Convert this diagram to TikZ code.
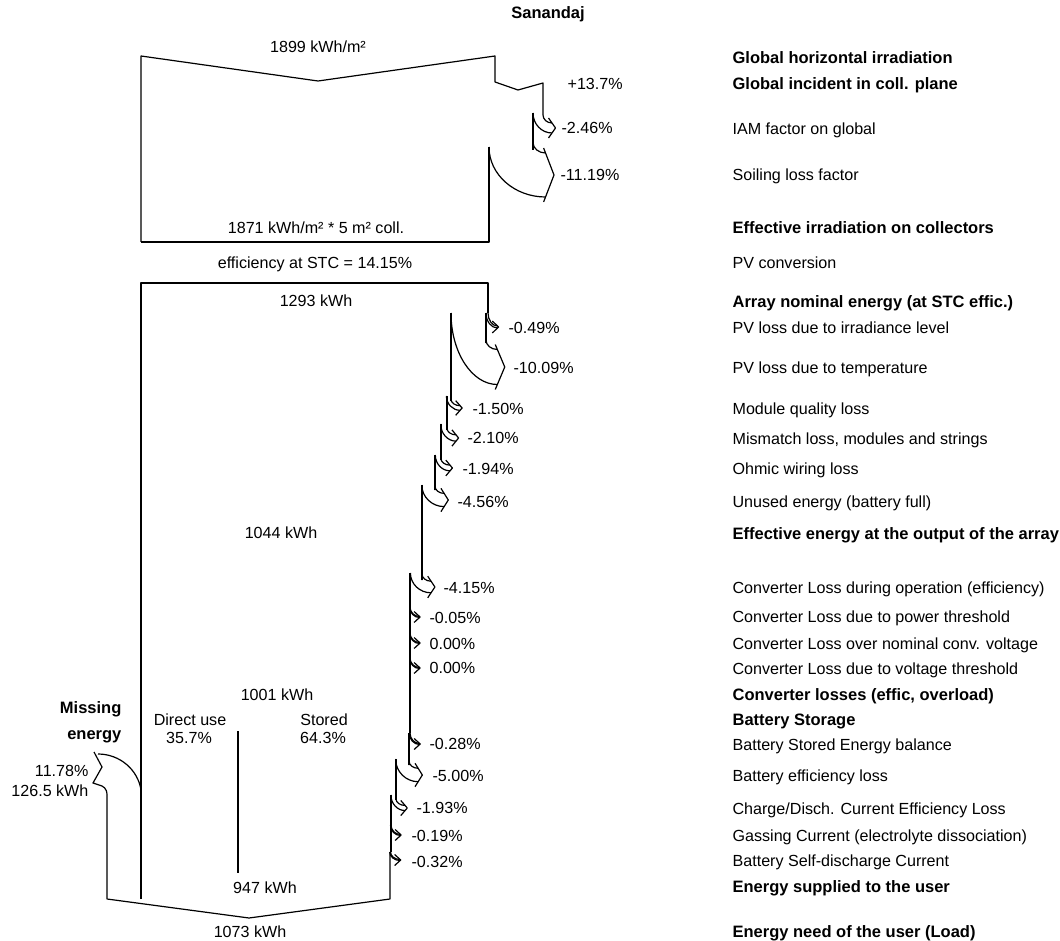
\documentclass[tikz,border=0pt]{standalone}
\usepackage{fontspec}
\setmainfont{Liberation Sans}
\newcommand\lblfont{\fontsize{16.1}{19}\selectfont}
\newcommand\blblfont{\fontsize{16.5}{19}\selectfont\bfseries}
% #1 R (outer edge x), #2 w (lost width), #3 yL (arrow level), #4 yO (outer start), #5 yI (inner start)
\newcommand\lossarr[5]{%
 \pgfmathsetmacro\lB{max(#2/2,0.5)}%
 \pgfmathsetmacro\lTx{#1+10+0.25*#2}%
 \pgfmathsetmacro\lA{6+0.1*#2}%
 \pgfmathsetmacro\lH{\lB+5}%
 \pgfmathsetmacro\lAx{\lTx-\lA}%
 \pgfmathsetmacro\lEx{\lTx-\lA*\lB/\lH}%
 \pgfmathsetmacro\lUy{#3-\lB}%
 \pgfmathsetmacro\lLy{#3+\lB}%
 \pgfmathsetmacro\lSy{min(#4,#3-\lB-6-0.1*#2)}%
 \pgfmathsetmacro\lIx{#1-#2}%
 \pgfmathsetmacro\lOa{\lSy+0.55*(\lUy-\lSy)}%
 \pgfmathsetmacro\lOb{\lEx-0.55*(\lEx-#1)}%
 \pgfmathsetmacro\lIa{#5+0.55*(\lLy-#5)}%
 \pgfmathsetmacro\lIb{\lEx-0.55*(\lEx-\lIx)}%
 \draw (#1,#4) -- (#1,\lSy) .. controls (#1,\lOa) and (\lOb,\lUy) .. (\lEx,\lUy);
 \draw (\lIx,#5) .. controls (\lIx,\lIa) and (\lIb,\lLy) .. (\lEx,\lLy);
 \draw (\lAx,#3-\lH) -- (\lTx,#3) -- (\lAx,#3+\lH);
}
\begin{document}
\begin{tikzpicture}[x=1pt,y=-1pt,line width=1.2pt,line join=round,
  lbl/.style={anchor=base west,inner sep=0pt,font=\lblfont},
  blbl/.style={anchor=base west,inner sep=0pt,font=\blblfont},
  mid/.style={anchor=base,inner sep=0pt,font=\lblfont},
  rlbl/.style={anchor=base east,inner sep=0pt,font=\lblfont},
  rblbl/.style={anchor=base east,inner sep=0pt,font=\blblfont}]
\useasboundingbox (0,0) rectangle (1060,941);
\fill[white] (0,0) rectangle (1060,941);

% ---- top section (irradiation)
\draw (141,242) -- (141,56) -- (318,81) -- (495,56) -- (495,82) -- (518,90) -- (543,83) -- (543,115);
\draw (533,113) -- (533,150);
\draw (489,147) -- (489,242) -- (141,242);
\lossarr{543}{10}{128}{115}{113}
\lossarr{533}{44}{175}{150}{147}

% ---- energy section
\draw (141,899) -- (141,283) -- (488,283) -- (488,313);
\draw (486,313) -- (486,343);
\draw (451,313) -- (451,401);
\draw (447,396) -- (447,430);
\draw (441,424) -- (441,460);
\draw (435,455) -- (435,490);
\draw (422,485) -- (422,580);
\draw (410,573) -- (410,733);
\draw (409,733) -- (409,765);
\draw (396,759) -- (396,800);
\draw (391,795) -- (391,852);
\draw (390,852) -- (390,899) -- (249,918) -- (107,899) -- (107,795)
  .. controls (107,788) and (103,786) .. (99,785) -- (93,783) -- (102,767) -- (94,752);
\draw (98,754) .. controls (120,754) and (138,770) .. (141,790);
\draw (238,731) -- (238,873);

\lossarr{488}{2}{327}{313}{313}
\lossarr{486}{35}{367}{343}{313}
\lossarr{451}{4.6}{408}{401}{396}
\lossarr{447}{6.3}{438}{430}{424}
\lossarr{441}{5.7}{468}{460}{455}
\lossarr{435}{13.2}{500}{490}{485}
\lossarr{422}{11.6}{587}{580}{573}
\lossarr{410}{0.3}{617}{607}{607}
\lossarr{410}{0.3}{643}{633}{633}
\lossarr{410}{0.3}{668}{658}{658}
\lossarr{410}{0.8}{744}{733}{733}
\lossarr{409}{13.4}{775}{765}{759}
\lossarr{396}{5.1}{808}{800}{795}
\lossarr{391}{0.5}{835}{825}{825}
\lossarr{390.5}{0.8}{860}{852}{852}

% ---- title
\node[mid,font=\blblfont] (title) at (548,19) {Sanandaj};

% ---- right column
\node[blbl] (r1) at (732,64) {Global horizontal irradiation};
\node[blbl] (r2) at (732,89.5) {Global incident in coll. plane};
\node[lbl] (r3) at (732,134.5) {IAM factor on global};
\node[lbl] (r4) at (732,181) {Soiling loss factor};
\node[blbl] (r5) at (732,233.5) {Effective irradiation on collectors};
\node[lbl] (r6) at (732,269) {PV conversion};
\node[blbl] (r7) at (732,308) {Array nominal energy (at STC effic.)};
\node[lbl] (r8) at (732,333.5) {PV loss due to irradiance level};
\node[lbl] (r9) at (732,373) {PV loss due to temperature};
\node[lbl] (r10) at (732,414.5) {Module quality loss};
\node[lbl] (r11) at (732,444.5) {Mismatch loss, modules and strings};
\node[lbl] (r12) at (732,474.5) {Ohmic wiring loss};
\node[lbl] (r13) at (732,507.5) {Unused energy (battery full)};
\node[blbl] (r14) at (732,539.5) {Effective energy at the output of the array};
\node[lbl] (r15) at (732,593) {Converter Loss during operation (efficiency)};
\node[lbl] (r16) at (732,622) {Converter Loss due to power threshold};
\node[lbl] (r17) at (732,649) {Converter Loss over nominal conv. voltage};
\node[lbl] (r18) at (732,674) {Converter Loss due to voltage threshold};
\node[blbl] (r19) at (732,700) {Converter losses (effic, overload)};
\node[blbl] (r20) at (732,725) {Battery Storage};
\node[lbl] (r21) at (732,750) {Battery Stored Energy balance};
\node[lbl] (r22) at (732,781) {Battery efficiency loss};
\node[lbl] (r23) at (732,814) {Charge/Disch. Current Efficiency Loss};
\node[lbl] (r24) at (732,841) {Gassing Current (electrolyte dissociation)};
\node[lbl] (r25) at (732,866) {Battery Self-discharge Current};
\node[blbl] (r26) at (732,892) {Energy supplied to the user};
\node[blbl] (r27) at (732,937) {Energy need of the user (Load)};

% ---- percentages
\node[lbl] (p1) at (567,90) {+13.7\%};
\node[lbl] (p2) at (561,134) {-2.46\%};
\node[lbl] (p3) at (560,181) {-11.19\%};
\node[lbl] (p4) at (508,333) {-0.49\%};
\node[lbl] (p5) at (513,373) {-10.09\%};
\node[lbl] (p6) at (472,414) {-1.50\%};
\node[lbl] (p7) at (467,443) {-2.10\%};
\node[lbl] (p8) at (462,474) {-1.94\%};
\node[lbl] (p9) at (457,507) {-4.56\%};
\node[lbl] (p10) at (443,593) {-4.15\%};
\node[lbl] (p11) at (429,623) {-0.05\%};
\node[lbl] (p12) at (429,649) {0.00\%};
\node[lbl] (p13) at (429,673) {0.00\%};
\node[lbl] (p14) at (429,749) {-0.28\%};
\node[lbl] (p15) at (432,781) {-5.00\%};
\node[lbl] (p16) at (416,813) {-1.93\%};
\node[lbl] (p17) at (411,841) {-0.19\%};
\node[lbl] (p18) at (411,867) {-0.32\%};

% ---- inner labels
\node[mid] (m1) at (318,53) {1899 kWh/m²};
\node[mid] (m2) at (316,234) {1871 kWh/m² * 5 m² coll.};
\node[mid] (m3) at (315,269) {efficiency at STC = 14.15\%};
\node[mid] (m4) at (316,307) {1293 kWh};
\node[mid] (m5) at (281,538) {1044 kWh};
\node[mid] (m6) at (277,700) {1001 kWh};
\node[rblbl] (m7) at (122,713) {Missing};
\node[rblbl] (m8) at (122,739) {energy};
\node[mid] (m9) at (190,725) {Direct use};
\node[mid] (m10) at (189,743) {35.7\%};
\node[mid] (m11) at (324,725) {Stored};
\node[mid] (m12) at (323,743) {64.3\%};
\node[rlbl] (m13) at (89,776) {11.78\%};
\node[rlbl] (m14) at (89,796) {126.5 kWh};
\node[mid] (m15) at (265,893) {947 kWh};
\node[mid] (m16) at (250,937) {1073 kWh};
\end{tikzpicture}
\end{document}
